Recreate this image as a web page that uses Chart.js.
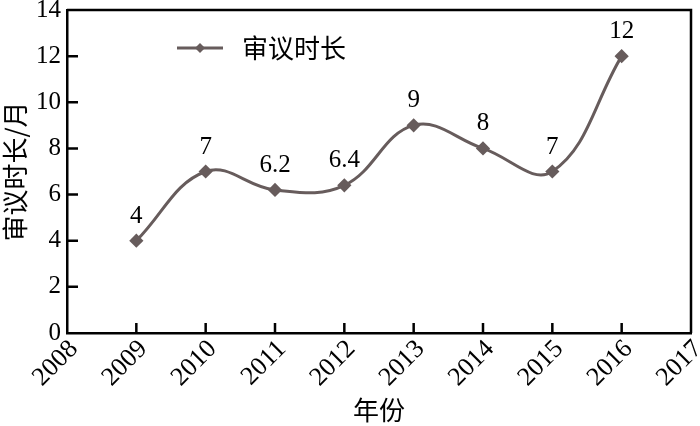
<!DOCTYPE html>
<html>
<head>
<meta charset="utf-8">
<script src="https://cdn.jsdelivr.net/npm/chart.js@4/dist/chart.umd.min.js"></script>
<style>
  html, body { margin: 0; padding: 0; background: #fff; }
  #wrap { width: 700px; height: 426px; }
</style>
</head>
<body>
<div id="wrap"><canvas id="chart" width="700" height="426"></canvas></div>
<script>
// data
const years = [2009, 2010, 2011, 2012, 2013, 2014, 2015, 2016];
const months = [4, 7, 6.2, 6.4, 9, 8, 7, 12];
const seriesName = '审议时长';
const xTitle = '年份';
const yTitle = '审议时长/月';

const lineColor = '#675c5c';
const numFont = '"Liberation Serif", "Times New Roman", serif';
const cjkFont = '"Noto Sans CJK SC", sans-serif';

// frame, inward ticks, value labels and the inner legend
const decor = {
    id: 'decor',
    afterDatasetsDraw(chart) {
        const ctx = chart.ctx;
        const area = chart.chartArea;
        const xs = chart.scales.x, ys = chart.scales.y;
        ctx.save();

        // top and right sides of the box
        ctx.strokeStyle = '#000';
        ctx.lineWidth = 2.5;
        ctx.beginPath();
        ctx.moveTo(area.left, area.top);
        ctx.lineTo(area.right, area.top);
        ctx.lineTo(area.right, area.bottom);
        ctx.stroke();

        // tick marks pointing into the plot
        ctx.lineWidth = 2.5;
        ctx.beginPath();
        xs.ticks.forEach(t => {
            const px = xs.getPixelForValue(t.value);
            if (px <= area.left + 1 || px >= area.right - 1) return;
            ctx.moveTo(px, area.bottom);
            ctx.lineTo(px, area.bottom - 10);
        });
        ys.ticks.forEach(t => {
            const py = ys.getPixelForValue(t.value);
            if (py <= area.top + 1 || py >= area.bottom - 1) return;
            ctx.moveTo(area.left, py);
            ctx.lineTo(area.left + 11, py);
        });
        ctx.stroke();

        // value labels
        const meta = chart.getDatasetMeta(0);
        ctx.fillStyle = '#000';
        ctx.font = '25px ' + numFont;
        ctx.textAlign = 'center';
        ctx.textBaseline = 'alphabetic';
        meta.data.forEach((pt, i) => {
            ctx.fillText(String(months[i]), pt.x, pt.y - 18);
        });

        // legend
        const y = 48;
        ctx.strokeStyle = lineColor;
        ctx.lineWidth = 3;
        ctx.beginPath();
        ctx.moveTo(177, y);
        ctx.lineTo(223, y);
        ctx.stroke();
        ctx.fillStyle = lineColor;
        ctx.beginPath();
        ctx.moveTo(200, y - 5);
        ctx.lineTo(205, y);
        ctx.lineTo(200, y + 5);
        ctx.lineTo(195, y);
        ctx.closePath();
        ctx.fill();
        ctx.fillStyle = '#000';
        ctx.font = '26px ' + cjkFont;
        ctx.textAlign = 'left';
        ctx.textBaseline = 'middle';
        ctx.fillText(seriesName, 242, y);

        ctx.restore();
    }
};

new Chart(document.getElementById('chart'), {
    type: 'line',
    data: {
        datasets: [{
            label: seriesName,
            data: years.map((y, i) => ({ x: y, y: months[i] })),
            borderColor: lineColor,
            backgroundColor: lineColor,
            borderWidth: 3,
            tension: 0.4,
            pointStyle: 'rectRot',
            pointRadius: 5,
            pointHoverRadius: 5
        }]
    },
    options: {
        responsive: false,
        animation: false,
        layout: { padding: { top: 10, right: 9, left: 0, bottom: 0 } },
        plugins: {
            legend: { display: false },
            tooltip: { enabled: false }
        },
        scales: {
            x: {
                type: 'linear',
                min: 2008,
                max: 2017,
                ticks: {
                    stepSize: 1,
                    autoSkip: false,
                    minRotation: 45,
                    maxRotation: 45,
                    color: '#000',
                    padding: 1,
                    labelOffset: 7,
                    font: { family: numFont, size: 26 },
                    callback: v => String(v)
                },
                grid: { display: false, drawTicks: false },
                border: { display: true, color: '#000', width: 2.5 },
                title: {
                    display: true,
                    text: xTitle,
                    color: '#000',
                    font: { family: cjkFont, size: 26 },
                    padding: 0
                },
                afterFit(scale) {
                    scale.height = 93;
                    scale.paddingLeft = 0;
                    scale.paddingRight = 0;
                }
            },
            y: {
                min: 0,
                max: 14,
                ticks: {
                    stepSize: 2,
                    color: '#000',
                    padding: 6,
                    font: { family: numFont, size: 25 }
                },
                grid: { display: false, drawTicks: false },
                border: { display: true, color: '#000', width: 2.5 },
                title: {
                    display: true,
                    text: yTitle,
                    color: '#000',
                    font: { family: cjkFont, size: 26 },
                    padding: 0
                },
                afterFit(scale) {
                    scale.width = 67;
                    scale.paddingTop = 0;
                    scale.paddingBottom = 0;
                }
            }
        }
    },
    plugins: [decor]
});
</script>
</body>
</html>
